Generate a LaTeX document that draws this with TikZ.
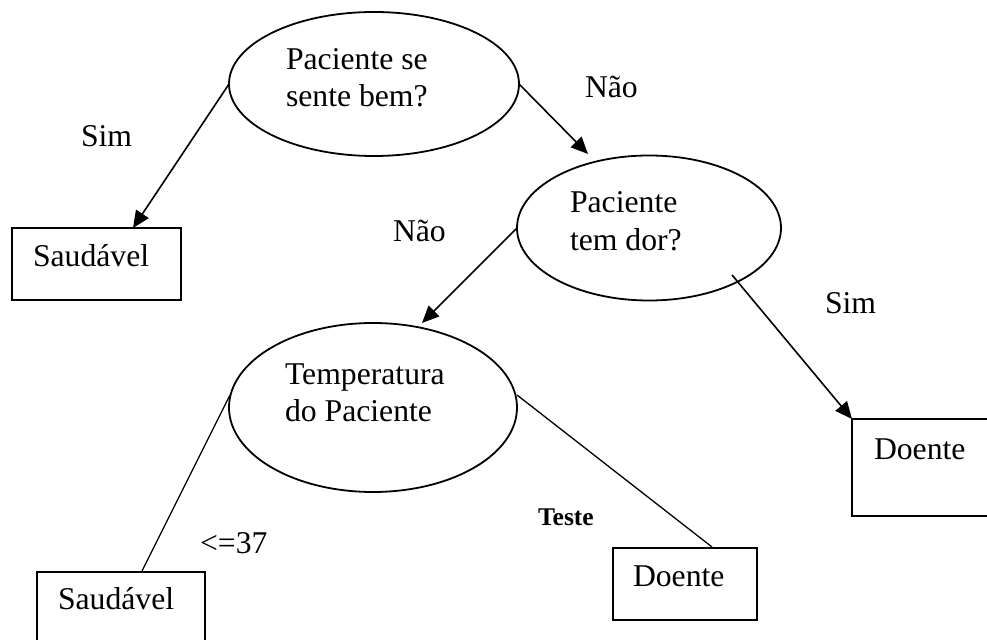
\documentclass[tikz,border=0pt]{standalone}
\usepackage{fontspec}
\setmainfont{Liberation Serif}
\usetikzlibrary{shapes.geometric,arrows.meta}
\begin{document}
\begin{tikzpicture}[x=0.5pt,y=-0.5pt,
  q/.style={ellipse,draw,line width=0.9pt,inner sep=0,outer sep=0},
  leaf/.style={rectangle,draw,line width=1pt,inner sep=0,outer sep=0},
  txt/.style={anchor=base west,inner sep=0,outer sep=0,font=\fontsize{15.85}{18.5}\selectfont},
  boldtxt/.style={anchor=base west,inner sep=0,outer sep=0,font=\fontsize{12.75}{15}\selectfont\bfseries},
  arr/.style={line width=0.8pt,-{Triangle[length=8.5pt,width=7.5pt]}},
  ln/.style={line width=0.65pt}]
\useasboundingbox (0,0) rectangle (987,640);
\clip (0,0) rectangle (987,640);

% question ellipses
\node[q,minimum width=145pt,minimum height=72pt] (e1) at (374,84) {};
\node[q,minimum width=132pt,minimum height=72.5pt] (e2) at (649,228) {};
\node[q,minimum width=144pt,minimum height=84.5pt] (e3) at (373,407.5) {};

% leaves
\node[leaf,minimum width=84.5pt,minimum height=36pt] (b1) at (96.5,264) {};
\node[leaf,minimum width=74pt,minimum height=48.5pt] (b3) at (926,467.5) {};
\node[leaf,minimum width=84pt,minimum height=44pt] (b4) at (121,616) {};
\node[leaf,minimum width=72pt,minimum height=36pt] (b5) at (685,584) {};

% texts inside
\node[txt] (t1a) at (286,70) {Paciente se};
\node[txt] (t1b) at (286,107) {sente bem?};
\node[txt] (t2a) at (570,213) {Paciente};
\node[txt] (t2b) at (570,251) {tem dor?};
\node[txt] (t3a) at (285,385) {Temperatura};
\node[txt] (t3b) at (285,422) {do Paciente};
\node[txt] (tb1) at (33,267) {Saudável};
\node[txt] (tb3) at (874,460) {Doente};
\node[txt] (tb4) at (58,610) {Saudável};
\node[txt] (tb5) at (633,587) {Doente};

% edge labels
\node[txt] (l1) at (81,147) {Sim};
\node[txt] (l2) at (585,98) {Não};
\node[txt] (l3) at (393,242) {Não};
\node[txt] (l4) at (825,314) {Sim};
\node[txt] (l5) at (200,554) {<=37};
\node[boldtxt] (l6) at (538,526) {Teste};

% connector end points
\coordinate (a1) at (133,228);
\coordinate (a2) at (588,154);
\coordinate (a3) at (422,323);
\coordinate (s4) at (732,275);
\coordinate (s5) at (230,395);
\coordinate (a5) at (142,571);
\coordinate (s6) at (517,395);
\coordinate (a6) at (712,547);

\draw[arr] (e1.west) -- (a1);
\draw[arr] (e1.east) -- (a2);
\draw[arr] (e2.west) -- (a3);
\draw[arr] (s4) -- (b3.north west);
\draw[ln] (s5) -- (a5);
\draw[ln] (s6) -- (a6);
\end{tikzpicture}
\end{document}
